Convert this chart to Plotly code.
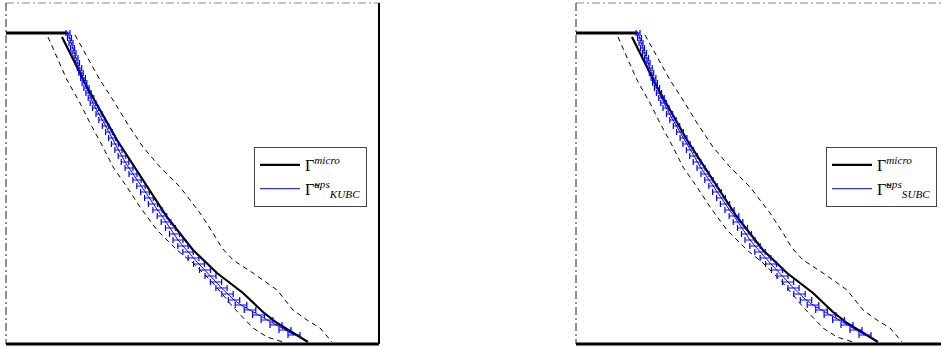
import plotly.graph_objects as go

W, H = 941, 347

# ---------------- data (panel units, x to the right, y up) ----------------
plateau_x = [0, 62]
plateau_y = [311, 311]

micro_x = [56, 81, 111, 137, 161, 187, 211, 237, 257, 271, 302]
micro_y = [307, 257, 204, 164, 127, 94, 71, 51, 32, 21, 2]

upper_x = [69, 81, 94, 107, 121, 137, 154, 174, 194, 207, 216, 227, 247, 271, 287, 301, 314, 326]
upper_y = [309, 287, 264, 244, 221, 197, 177, 157, 131, 111, 96, 84, 71, 54, 34, 24, 16, 2]

lower_x = [42, 49, 61, 74, 84, 97, 107, 121, 134, 151, 171, 187, 207, 227, 247, 261, 277]
lower_y = [307, 291, 264, 241, 221, 197, 177, 157, 137, 114, 94, 81, 61, 37, 16, 7, 2]

kubc_x = [62, 63.5, 65, 66.5, 68, 70, 71.5, 73.5, 75, 77, 78.5, 80.5, 82.5, 85, 87, 89.5,
          93, 96, 99.5, 103, 106, 109, 112.5, 116, 119, 123, 127, 131, 135, 139, 143, 147,
          151.5, 156, 160, 164.5, 168.5, 172, 177, 182, 187.5, 193, 199, 204.5, 210, 215.5,
          221.5, 228, 235, 244, 252.5, 261, 270, 279, 288]
kubc_y = [311, 306, 301, 296, 291, 286, 281, 276, 271, 266, 261, 256, 251, 246, 241, 236,
          230, 224, 218, 212, 206, 200, 194, 188, 182, 176, 170, 164, 158, 152, 146, 140,
          134, 128, 122, 116, 110, 104, 98, 92, 86, 80, 74, 68, 62, 56,
          50, 44, 39, 34, 29, 24, 19, 14, 9]
kubc_err = [2, 2, 2, 2, 2, 2, 2, 2.2, 2.2, 2.4, 2.4, 2.6, 2.6, 2.8, 2.8, 3,
            3, 3.2, 3.2, 3.4, 3.4, 3.6, 3.6, 3.8, 3.8, 4, 4, 4.2, 4.2, 4.4, 4.4, 4.6,
            4.6, 4.8, 4.8, 5, 5, 5, 5.2, 5.2, 5.4, 5.4, 5.5, 5.5, 5.6, 5.6,
            5.7, 5.7, 5.8, 5.8, 5.9, 5.9, 6, 6, 6]

subc_x = [62, 63.5, 65, 66.5, 68.5, 70.5, 72, 74, 75.5, 77.5, 79, 81, 83, 85.5, 87.5, 90,
          93.5, 97, 100.5, 104, 107.5, 110.5, 114, 117.5, 121, 125, 129, 133, 137, 141, 145, 149,
          153.5, 158, 162, 166.5, 170.5, 174, 179, 184, 189.5, 195, 201, 206.5, 212, 217.5,
          223.5, 230, 237, 245.5, 254, 262.5, 271, 280, 289]
subc_y = [311, 306, 301, 296, 291, 286, 281, 276, 271, 266, 261, 256, 251, 246, 241, 236,
          230, 224, 218, 212, 206, 200, 194, 188, 182, 176, 170, 164, 158, 152, 146, 140,
          134, 128, 122, 116, 110, 104, 98, 92, 86, 80, 74, 68, 62, 56,
          50, 44, 39, 34, 29, 24, 19, 14, 9]
subc_err = [2, 2, 2, 2, 2, 2, 2, 2.2, 2.2, 2.4, 2.4, 2.6, 2.6, 2.8, 2.8, 3,
            3, 3.2, 3.2, 3.4, 3.4, 3.6, 3.6, 3.8, 3.8, 4, 4, 4.2, 4.2, 4.4, 4.4, 4.6,
            4.6, 4.8, 4.8, 5, 5, 5, 5.2, 5.2, 5.4, 5.4, 5.5, 5.5, 5.6, 5.6,
            5.7, 5.7, 5.8, 5.8, 5.9, 5.9, 6, 6, 6]

name_micro = "\u0393<sup><i>micro</i></sup>"
name_kubc = "\u0393\u0303<sup><i>ups</i></sup><sub><i>KUBC</i></sub>"
name_subc = "\u0393\u0303<sup><i>ups</i></sup><sub><i>SUBC</i></sub>"

BLUE = "#0000ff"
DASH = "5px,4px"

fig = go.Figure()


def add_panel(xa, ya, legend, blue_x, blue_y, blue_err, blue_name):
    fig.add_trace(go.Scatter(x=lower_x, y=lower_y, mode="lines", xaxis=xa, yaxis=ya,
                             line=dict(color="black", width=1, dash=DASH), showlegend=False,
                             hoverinfo="skip"))
    fig.add_trace(go.Scatter(x=upper_x, y=upper_y, mode="lines", xaxis=xa, yaxis=ya,
                             line=dict(color="black", width=1, dash=DASH), showlegend=False,
                             hoverinfo="skip"))
    fig.add_trace(go.Scatter(x=plateau_x, y=plateau_y, mode="lines", xaxis=xa, yaxis=ya,
                             line=dict(color="black", width=3), showlegend=False,
                             hoverinfo="skip"))
    fig.add_trace(go.Scatter(x=micro_x, y=micro_y, mode="lines", xaxis=xa, yaxis=ya,
                             line=dict(color="black", width=2.2), name=name_micro,
                             legend=legend))
    fig.add_trace(go.Scatter(x=blue_x, y=blue_y, mode="lines", xaxis=xa, yaxis=ya,
                             line=dict(color=BLUE, width=1), name=blue_name, legend=legend,
                             error_x=dict(type="data", array=blue_err, color=BLUE,
                                          thickness=1.2, width=3)))


add_panel("x", "y", "legend", kubc_x, kubc_y, kubc_err, name_kubc)
add_panel("x2", "y2", "legend2", subc_x, subc_y, subc_err, name_subc)

# panel geometry in pixels
L1, R1 = 6, 379
L2, R2 = 576, 949
TOP, BOT = 3, 344


def px(v):
    return v / W


def py(v):
    return 1 - v / H


ax_common = dict(showgrid=False, zeroline=False, showticklabels=False, ticks="",
                 showline=False, fixedrange=True)
legend_style = dict(xanchor="right", yanchor="top",
                    bgcolor="white", bordercolor="#444", borderwidth=1,
                    font=dict(family="Liberation Serif", size=16, color="black"),
                    itemwidth=40, tracegroupgap=0)
fig.update_layout(
    width=W, height=H,
    margin=dict(l=0, r=0, t=0, b=0),
    paper_bgcolor="white", plot_bgcolor="white",
    xaxis=dict(domain=[px(L1), px(R1)], range=[0, R1 - L1], **ax_common),
    yaxis=dict(domain=[py(BOT), py(TOP)], range=[0, BOT - TOP], **ax_common),
    xaxis2=dict(domain=[px(L2), 1], range=[0, W - L2], **ax_common),
    yaxis2=dict(domain=[py(BOT), py(TOP)], range=[0, BOT - TOP], **ax_common),
    legend=dict(x=px(367), y=py(147), **legend_style),
    legend2=dict(x=px(937), y=py(147), **legend_style),
    showlegend=True,
)

shapes = []
for (L, R) in [(L1, R1), (L2, R2)]:
    # top: grey dash-dot
    shapes.append(dict(type="line", xref="paper", yref="paper", x0=px(L), x1=px(min(R, W)),
                       y0=py(TOP), y1=py(TOP),
                       line=dict(color="#888", width=1, dash="8px,3px,2px,3px")))
    # left: dark dash-dot
    shapes.append(dict(type="line", xref="paper", yref="paper", x0=px(L), x1=px(L),
                       y0=py(TOP), y1=py(BOT),
                       line=dict(color="#222", width=1, dash="8px,3px,2px,3px")))
    # bottom: thick solid
    shapes.append(dict(type="line", xref="paper", yref="paper", x0=px(L), x1=px(min(R, W)),
                       y0=py(BOT), y1=py(BOT), line=dict(color="black", width=3)))
    if R <= W:
        shapes.append(dict(type="line", xref="paper", yref="paper", x0=px(R), x1=px(R),
                           y0=py(TOP), y1=py(BOT), line=dict(color="black", width=2)))
fig.update_layout(shapes=shapes)

fig.write_html("out.html",
               config={"displayModeBar": False, "staticPlot": True},
               post_script="document.body.style.margin='0px';document.body.style.padding='0px';")
